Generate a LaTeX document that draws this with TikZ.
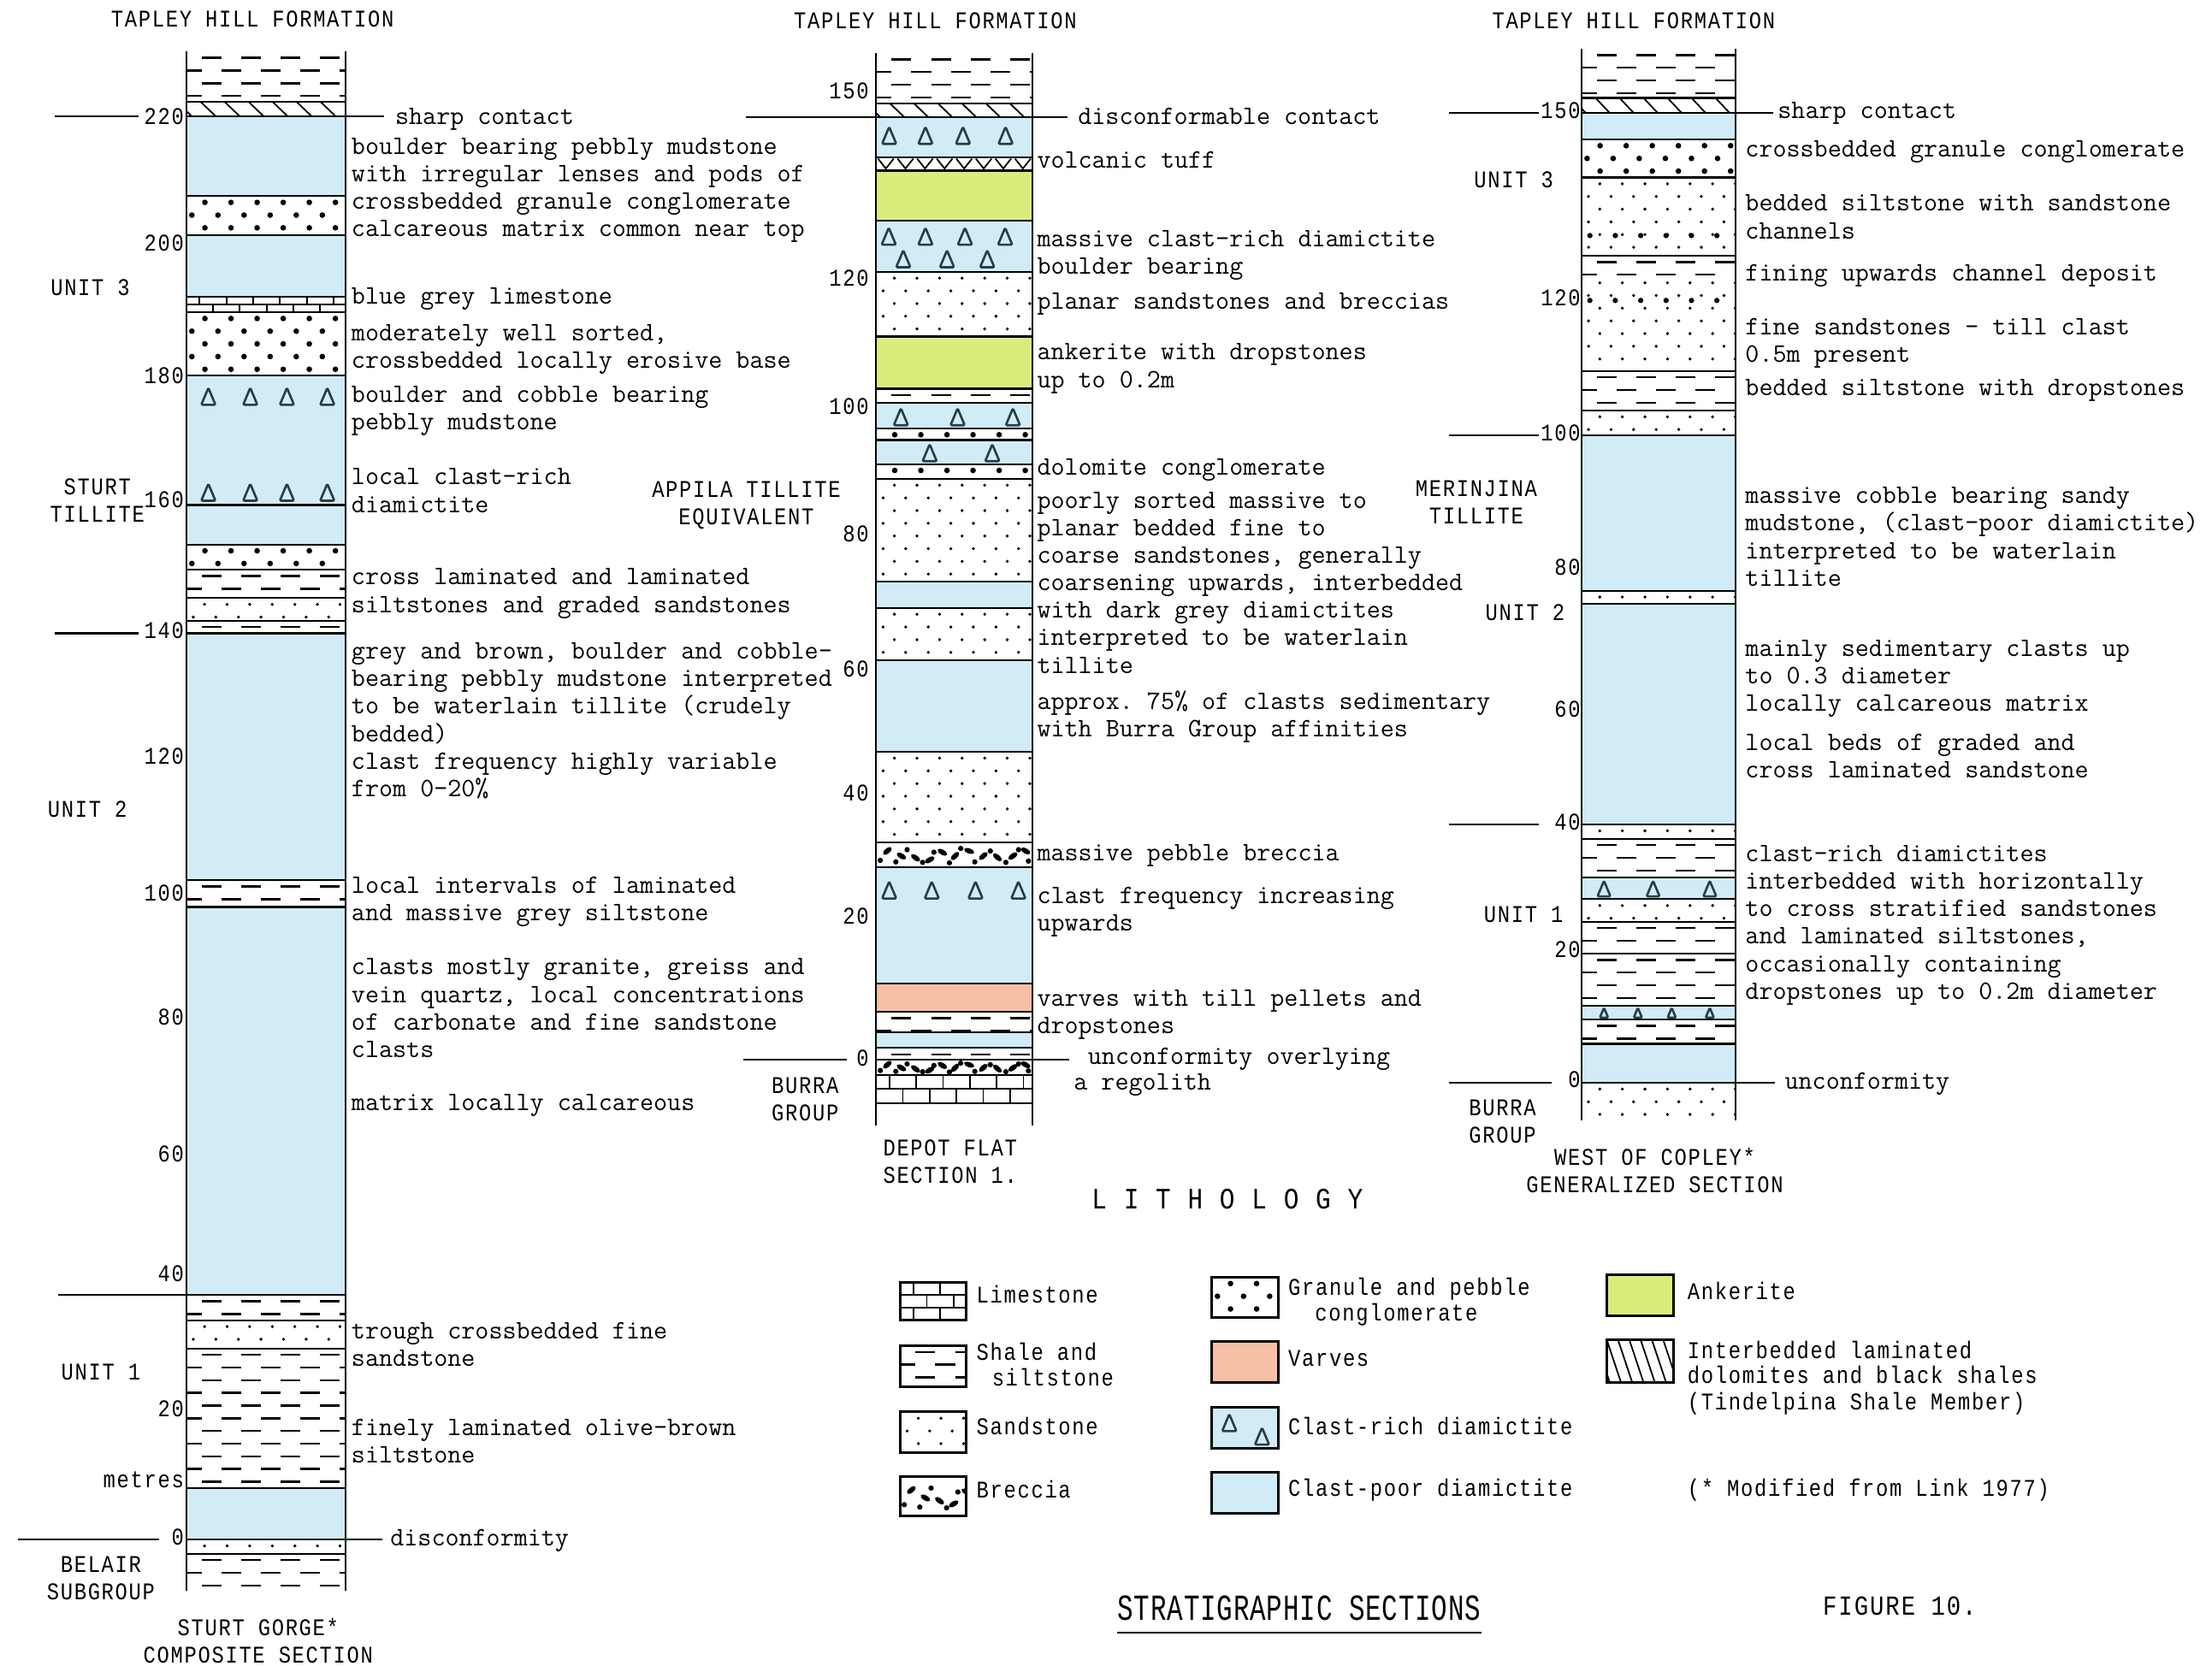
\documentclass[tikz,border=0pt]{standalone}
\usepackage{fontspec}
\usepackage{tikz}

\newfontfamily\lettering[FakeStretch=0.85,LetterSpace=6]{Liberation Mono}
\newfontfamily\titling[FakeStretch=0.72,LetterSpace=2]{Liberation Mono}

\definecolor{diam}{RGB}{209,236,247}
\definecolor{ank}{RGB}{218,236,124}
\definecolor{varve}{RGB}{247,192,165}
\definecolor{clastink}{RGB}{40,62,70}

% lithology symbols: #1 left, #2 right, #3 top, #4 bottom (y grows downwards)
\newcommand\shale[4]{%
  \begin{scope}
    \clip (#1,#3) rectangle (#2,#4);
    \pgfmathsetmacro\rowa{#3+4.5}%
    \pgfmathsetmacro\rowb{#3+13.5}%
    \foreach \yy [count=\k] in {\rowa,\rowb,...,#4}
      \foreach \xx in {-3,25,...,130}
        \draw[dashline] ({#1+\xx+mod(\k,2)*14},\yy) -- ++(14,0);
  \end{scope}}
\newcommand\sand[4]{%
  \begin{scope}
    \clip (#1,#3) rectangle (#2,#4);
    \pgfmathsetmacro\rowa{#3+4.5}%
    \pgfmathsetmacro\rowb{#3+13.5}%
    \foreach \yy [count=\k] in {\rowa,\rowb,...,#4}
      \foreach \xx in {5,21,...,125}
        \fill ({#1+\xx+mod(\k,2)*8},\yy) circle (1.15pt);
  \end{scope}}
\newcommand\congl[4]{%
  \begin{scope}
    \clip (#1,#3) rectangle (#2,#4);
    \pgfmathsetmacro\rowa{#3+4.5}%
    \pgfmathsetmacro\rowb{#3+13.5}%
    \foreach \yy [count=\k] in {\rowa,\rowb,...,#4}
      \foreach \xx in {4,22.5,...,130}
        \fill ({#1+\xx+mod(\k,2)*9.25},\yy) circle (2pt);
  \end{scope}}
% #5 = number of brick rows
\newcommand\lime[5]{%
  \begin{scope}
    \clip (#1,#3) rectangle (#2,#4);
    \pgfmathsetmacro\bh{(#4-#3)/#5}%
    \foreach \rw in {1,...,#5}{
      \draw[patline] (#1,{#3+\rw*\bh}) -- (#2,{#3+\rw*\bh});
      \foreach \xx in {0,19,...,133}
        \draw[patline] ({#1+\xx+mod(\rw,2)*9.5},{#3+(\rw-1)*\bh}) -- ++(0,\bh);
    }
  \end{scope}}
% #5 = spacing, #6 = horizontal run of each stroke
\newcommand\hatch[6]{%
  \begin{scope}
    \clip (#1,#3) rectangle (#2,#4);
    \pgfmathsetmacro\hb{-24+#5}%
    \foreach \xx in {-24,\hb,...,124}
      \draw[patline] ({#1+\xx},#3) -- ++(#6,{#4-#3});
  \end{scope}}
\newcommand\tuff[4]{%
  \pgfmathsetmacro\vw{(#2-#1)/8}%
  \foreach \i in {0,...,7}
    \draw[patline,line join=round] ({#1+(\i+0.1)*\vw},#3+1) -- ({#1+(\i+0.5)*\vw},#4-1.5) -- ({#1+(\i+0.9)*\vw},#3+1);}
% clast triangle: centre x, centre y, height
\newcommand\clast[3]{%
  \draw[clastline] ({#1-0.42*#3},{#2+0.5*#3}) -- ({#1},{#2-0.5*#3})
    -- ({#1+0.42*#3},{#2+0.5*#3}) -- cycle;}
\newcommand\breccia[4]{%
  \begin{scope}
    \clip (#1,#3) rectangle (#2,#4);
    \foreach \dx/\fy in {3/.72,14/.78,22/.3,33/.8,41/.4,52/.82,60/.25,70/.78,81/.35,92/.8,101/.3,108/.75}
      \fill ({#1+\dx},{#3+\fy*(#4-#3)}) circle (1.9pt);
    \foreach \dx/\fy/\aa in {8/.35/40,18/.55/-30,28/.62/-35,38/.7/30,47/.4/-30,56/.55/45,66/.35/-20,76/.55/40,86/.6/-40,97/.55/35,106/.35/-30}
      \fill[shift={({#1+\dx},{#3+\fy*(#4-#3)})},rotate=\aa] (0,0) ellipse (3.8pt and 1.8pt);
  \end{scope}}
% row of coarse grains: left, y
\newcommand\bigdots[2]{%
  \foreach \xx in {6,24,...,100} \fill ({#1+\xx},#2) circle (1.9pt);}

% text helpers: name, x, baseline of first line, text
\newcommand\desc[4]{\node[desc] (#1) at (#2,#3-13.65) {\strut #4};}
\newcommand\lett[4]{\node[lett,anchor=north] (#1) at (#2,#3-13.65) {\strut #4};}

\begin{document}
\begin{tikzpicture}[x=1pt,y=-1pt,
    bed/.style={line width=1.3pt},
    patline/.style={line width=1.1pt},
    dashline/.style={line width=1.5pt},
    clastline/.style={draw=clastink,line width=1.6pt,line join=round,rounded corners=0.8pt},
    legbox/.style={line width=1.8pt},
    desc/.style={font=\fontsize{18.9}{19.5}\selectfont\ttfamily\addfontfeatures{FakeBold=1.2}\frenchspacing,
      anchor=north west,inner sep=0pt,align=left},
    lett/.style={font=\fontsize{17}{19.5}\selectfont\lettering,inner sep=0pt,align=center},
    mlabel/.style={lett,anchor=base east},
    leg/.style={lett,anchor=base west}]

\fill[white] (0,0) rectangle (1568,1181);
\useasboundingbox (0,0) rectangle (1568,1181);

%%% Sturt Gorge composite section
\def\colL{132}\def\colR{245}
\foreach \ta/\tb in {82.5/139,166.5/210.5,266/358,358/386,449/624,643/918,1055/1091.5}
  \fill[diam] (\colL,\ta) rectangle (\colR,\tb);
\shale{\colL}{\colR}{36.5}{72}
\hatch{\colL}{\colR}{72}{82.5}{17}{11}
\congl{\colL}{\colR}{139}{166.5}
\lime{\colL}{\colR}{210.5}{221.3}{2}
\congl{\colL}{\colR}{221.3}{266}
\foreach \y in {281,349}
  {\foreach \dx in {15.7,45.4,71.4,100} {\clast{\colL+\dx}{\y}{12}}}
\congl{\colL}{\colR}{386}{404}
\shale{\colL}{\colR}{404}{424}
\sand{\colL}{\colR}{424}{440}
\shale{\colL}{\colR}{440}{449}
\shale{\colL}{\colR}{624}{643}
\shale{\colL}{\colR}{918}{936}
\sand{\colL}{\colR}{936}{956}
\shale{\colL}{\colR}{956}{1055}
\sand{\colL}{\colR}{1091.5}{1101.5}
\shale{\colL}{\colR}{1101.5}{1128}
\foreach \y in {72,82.5,139,166.5,210.5,221.3,266,358,386,404,424,440,449,624,643,918,936,956,1055,1091.5,1101.5}
  \draw[bed] (\colL,\y) -- (\colR,\y);
\draw[bed] (\colL,36.5) -- (\colL,1128) (\colR,36.5) -- (\colR,1128);
\draw[bed] (39,82.5) -- (98,82.5) (\colR,82.5) -- (272,82.5);
\draw[bed] (39,449) -- (98,449);
\draw[bed] (41,918) -- (\colL,918);
\draw[bed] (13,1091.5) -- (113,1091.5) (\colR,1091.5) -- (271,1091.5);

\foreach \v/\y in {220/88,200/177.8,180/271.8,160/359.8,140/452.7,120/541.7,100/638.7,80/726.6,60/823.6,40/908.5,20/1004.5,0/1095.5}
  \node[mlabel] (sg-\v) at (130.5,\y) {\v};
\node[mlabel] (sg-m) at (130.5,1054.6) {metres};

\lett{thf1}{179}{19.2}{TAPLEY HILL FORMATION}
\lett{sg-u3}{64}{209}{UNIT 3}
\lett{sturt}{69}{350.7}{STURT\\TILLITE}
\lett{sg-u2}{62}{579}{UNIT 2}
\lett{sg-u1}{71.5}{978}{UNIT 1}
\lett{belair}{71.5}{1114.7}{BELAIR\\SUBGROUP}
\lett{sg-name}{183}{1159.2}{STURT GORGE*\\COMPOSITE SECTION}

\desc{sg-a}{280}{88}{sharp contact}
\desc{sg-b}{249}{109}{boulder bearing pebbly mudstone\\with irregular lenses and pods of\\crossbedded granule conglomerate\\calcareous matrix common near top}
\desc{sg-c}{249}{215.5}{blue grey limestone}
\desc{sg-d}{249}{241.5}{moderately well sorted,\\crossbedded locally erosive base}
\desc{sg-e}{249}{285}{boulder and cobble bearing\\pebbly mudstone}
\desc{sg-f}{249}{343.5}{local clast-rich\\diamictite}
\desc{sg-g}{249}{414.5}{cross laminated and laminated\\siltstones and graded sandstones}
\desc{sg-h}{249}{467}{grey and brown, boulder and cobble-\\bearing pebbly mudstone interpreted\\to be waterlain tillite (crudely\\bedded)\\clast frequency highly variable\\from 0-20\%}
\desc{sg-i}{249}{633}{local intervals of laminated\\and massive grey siltstone}
\desc{sg-j}{249}{691}{clasts mostly granite, greiss and\\vein quartz, local concentrations\\of carbonate and fine sandstone\\clasts}
\desc{sg-k}{249}{787}{matrix locally calcareous}
\desc{sg-l}{249}{949}{trough crossbedded fine\\sandstone}
\desc{sg-m2}{249}{1017.5}{finely laminated olive-brown\\siltstone}
\desc{sg-n}{276.5}{1095.5}{disconformity}

%%% Depot Flat section 1
\def\colL{621}\def\colR{732}
\foreach \ta/\tb in {83/111.5,156.5/192.7,285.4/303.7,312/329,412.2/431,468/533,615/697.3,732/743}
  \fill[diam] (\colL,\ta) rectangle (\colR,\tb);
\foreach \ta/\tb in {121/156.5,238.6/275.6}
  \fill[ank] (\colL,\ta) rectangle (\colR,\tb);
\fill[varve] (\colL,697.3) rectangle (\colR,717.3);
\shale{\colL}{\colR}{37.5}{73.5}
\hatch{\colL}{\colR}{73.5}{83}{17}{10}
\foreach \dx in {9.3,35,61.6,91.8} {\clast{\colL+\dx}{96}{12}}
\tuff{\colL}{\colR}{111.5}{121}
\foreach \dx in {9,35,63,91.5} {\clast{\colL+\dx}{167.5}{12}}
\foreach \dx in {19.3,50.3,78.8} {\clast{\colL+\dx}{183.5}{12}}
\sand{\colL}{\colR}{192.7}{238.6}
\shale{\colL}{\colR}{275.6}{285.4}
\foreach \dx in {17.6,57.8,97} {\clast{\colL+\dx}{295.5}{12}}
\congl{\colL}{\colR}{303.7}{312}
\foreach \dx in {38,82.4} {\clast{\colL+\dx}{321}{12}}
\congl{\colL}{\colR}{329}{339.5}
\sand{\colL}{\colR}{339.5}{412.2}
\sand{\colL}{\colR}{431}{468}
\sand{\colL}{\colR}{533}{597}
\breccia{\colL}{\colR}{597}{615}
\foreach \dx in {9.3,39.5,70.5,100.9} {\clast{\colL+\dx}{631}{12}}
\shale{\colL}{\colR}{717.3}{732}
\shale{\colL}{\colR}{743}{751}
\breccia{\colL}{\colR}{751}{762}
\lime{\colL}{\colR}{762}{782}{2}
\foreach \y in {73.5,83,111.5,121,156.5,192.7,238.6,275.6,285.4,303.7,312,329,339.5,412.2,431,468,533,597,615,697.3,717.3,732,743,751,762,782}
  \draw[bed] (\colL,\y) -- (\colR,\y);
\draw[bed] (\colL,37.5) -- (\colL,798) (\colR,37.5) -- (\colR,798);
\draw[bed] (529,83) -- (\colL,83) (\colR,83) -- (757,83);
\draw[bed] (527,751) -- (600,751) (\colR,751) -- (758,751);

\foreach \v/\y in {150/70.2,120/203,100/293.5,80/384,60/480,40/567.6,20/655,0/755.5}
  \node[mlabel] (df-\v) at (616,\y) {\v};

\lett{thf2}{663}{20.4}{TAPLEY HILL FORMATION}
\lett{appila}{529}{352.2}{APPILA TILLITE\\EQUIVALENT}
\lett{burra2}{570.7}{774.8}{BURRA\\GROUP}
\lett{df-name}{673.5}{819.4}{DEPOT FLAT\\SECTION 1.}

\desc{df-a}{764}{88}{disconformable contact}
\desc{df-b}{735}{119}{volcanic tuff}
\desc{df-c}{735}{174.5}{massive clast-rich diamictite\\boulder bearing}
\desc{df-d}{735}{219}{planar sandstones and breccias}
\desc{df-e}{735}{255}{ankerite with dropstones\\up to 0.2m}
\desc{df-f}{735}{336.4}{dolomite conglomerate}
\desc{df-g}{735}{360}{poorly sorted massive to\\planar bedded fine to\\coarse sandstones, generally\\coarsening upwards, interbedded\\with dark grey diamictites\\interpreted to be waterlain\\tillite}
\desc{df-h}{735}{502.5}{approx. 75\% of clasts sedimentary\\with Burra Group affinities}
\desc{df-i}{735}{609.8}{massive pebble breccia}
\desc{df-j}{735}{640.5}{clast frequency increasing\\upwards}
\desc{df-k}{735}{713}{varves with till pellets and\\dropstones}
\desc{df-l}{771}{754.6}{unconformity overlying}
\desc{df-m}{761}{772.5}{a regolith}

%%% West of Copley generalized section
\def\colL{1121}\def\colR{1230}
\foreach \ta/\tb in {80/98.8,308.5/418.8,428/584.5,622/637.5,713/722.8,740/767.6}
  \fill[diam] (\colL,\ta) rectangle (\colR,\tb);
\shale{\colL}{\colR}{34.5}{69.4}
\hatch{\colL}{\colR}{69.4}{80}{17}{10}
\congl{\colL}{\colR}{98.8}{125.8}
\sand{\colL}{\colR}{125.8}{181.2}
\bigdots{\colL}{167}
\shale{\colL}{\colR}{181.2}{196}
\sand{\colL}{\colR}{196}{263}
\bigdots{\colL}{213}
\shale{\colL}{\colR}{263}{291}
\sand{\colL}{\colR}{291}{308.5}
\sand{\colL}{\colR}{418.8}{428}
\sand{\colL}{\colR}{584.5}{594.7}
\shale{\colL}{\colR}{594.7}{622}
\foreach \dx in {16,50.8,91} {\clast{\colL+\dx}{630}{11}}
\sand{\colL}{\colR}{637.5}{653.5}
\shale{\colL}{\colR}{653.5}{676}
\shale{\colL}{\colR}{676}{713}
\foreach \dx in {16,40,64,91} {\clast{\colL+\dx}{718}{7}}
\shale{\colL}{\colR}{722.8}{740}
\sand{\colL}{\colR}{767.6}{794}
\foreach \y in {69.4,80,98.8,125.8,181.2,263,291,308.5,418.8,428,584.5,594.7,622,637.5,653.5,676,713,722.8,740,767.6}
  \draw[bed] (\colL,\y) -- (\colR,\y);
\draw[bed] (\colL,34.5) -- (\colL,794) (\colR,34.5) -- (\colR,794);
\draw[bed] (1027,80) -- (1091,80) (\colR,80) -- (1257,80);
\draw[bed] (1027,308.5) -- (1091,308.5);
\draw[bed] (1027,584.5) -- (1091,584.5);
\draw[bed] (1027,767.6) -- (1100,767.6) (\colR,767.6) -- (1258,767.6);

\foreach \v/\y in {150/84,120/217,100/312.7,80/407.6,60/508.7,40/588.7,20/679,0/771.2}
  \node[mlabel] (wc-\v) at (1120.5,\y) {\v};

\lett{thf3}{1158}{20.4}{TAPLEY HILL FORMATION}
\lett{wc-u3}{1073}{132.7}{UNIT 3}
\lett{merin}{1046.5}{351.7}{MERINJINA\\TILLITE}
\lett{wc-u2}{1081}{439.4}{UNIT 2}
\lett{wc-u1}{1080}{653.5}{UNIT 1}
\lett{burra3}{1065}{790.7}{BURRA\\GROUP}
\lett{wc-name}{1173}{826}{WEST OF COPLEY*\\GENERALIZED SECTION}

\desc{wc-a}{1260}{83.5}{sharp contact}
\desc{wc-b}{1237}{111}{crossbedded granule conglomerate}
\desc{wc-c}{1237}{149.5}{bedded siltstone with sandstone\\channels}
\desc{wc-d}{1237}{199}{fining upwards channel deposit}
\desc{wc-e}{1237}{237}{fine sandstones - till clast\\0.5m present}
\desc{wc-f}{1237}{280}{bedded siltstone with dropstones}
\desc{wc-g}{1237}{356.8}{massive cobble bearing sandy\\mudstone, (clast-poor diamictite)\\interpreted to be waterlain\\tillite}
\desc{wc-h}{1237}{465}{mainly sedimentary clasts up\\to 0.3 diameter\\locally calcareous matrix}
\desc{wc-i}{1237}{532}{local beds of graded and\\cross laminated sandstone}
\desc{wc-j}{1237}{610.6}{clast-rich diamictites\\interbedded with horizontally\\to cross stratified sandstones\\and laminated siltstones,\\occasionally containing\\dropstones up to 0.2m diameter}
\desc{wc-k}{1265}{771.8}{unconformity}

%%% lithology key
\node[lett,font=\fontsize{21}{22}\selectfont\lettering,anchor=base] (litho) at (870,857) {L I T H O L O G Y};

\lime{638}{685}{909}{936}{3}
\draw[legbox] (638,909) rectangle (685,936);
\shale{638}{685}{954}{983}
\draw[legbox] (638,954) rectangle (685,983);
\sand{638}{685}{1001}{1030}
\draw[legbox] (638,1001) rectangle (685,1030);
\breccia{638}{685}{1046.6}{1074.6}
\draw[legbox] (638,1046.6) rectangle (685,1074.6);

\congl{859}{906}{905.5}{934}
\draw[legbox] (859,905.5) rectangle (906,934);
\fill[varve] (859,951) rectangle (906,980);
\draw[legbox] (859,951) rectangle (906,980);
\fill[diam] (859,997.5) rectangle (906,1026.6);
\clast{871.4}{1008.6}{12}
\clast{894.6}{1018.2}{12}
\draw[legbox] (859,997.5) rectangle (906,1026.6);
\fill[diam] (859,1043.6) rectangle (906,1073);
\draw[legbox] (859,1043.6) rectangle (906,1073);

\fill[ank] (1139,904) rectangle (1186,933);
\draw[legbox] (1139,904) rectangle (1186,933);
\hatch{1139}{1186}{950}{980}{8}{10}
\draw[legbox] (1139,950) rectangle (1186,980);

\node[leg] (k-lime) at (692,923.5) {Limestone};
\node[leg] (k-shale) at (692,964.2) {Shale and};
\node[leg] (k-shale2) at (703,982.8) {siltstone};
\node[leg] (k-sand) at (692,1017.3) {Sandstone};
\node[leg] (k-brec) at (692,1062) {Breccia};
\node[leg] (k-congl) at (913,918) {Granule and pebble};
\node[leg] (k-congl2) at (932,936.7) {conglomerate};
\node[leg] (k-varve) at (913,968.6) {Varves};
\node[leg] (k-rich) at (913,1017) {Clast-rich diamictite};
\node[leg] (k-poor) at (913,1061) {Clast-poor diamictite};
\node[leg] (k-ank) at (1196,921.4) {Ankerite};
\node[leg] (k-tin) at (1196,963) {Interbedded laminated};
\node[leg] (k-tin2) at (1196,980.7) {dolomites and black shales};
\node[leg] (k-tin3) at (1196,999.3) {(Tindelpina Shale Member)};
\node[leg] (k-note) at (1196,1061) {(* Modified from Link 1977)};

\node[font=\fontsize{26}{29}\selectfont\titling,inner sep=0pt,anchor=base] (title) at (921,1148.8) {STRATIGRAPHIC SECTIONS};
\draw[bed] ([yshift=-8.7pt]title.base west) -- ([yshift=-8.7pt]title.base east);
\node[font=\fontsize{19.5}{22}\selectfont\lettering,inner sep=0pt,anchor=base west] (fig) at (1292,1145) {FIGURE 10.};

\end{tikzpicture}
\end{document}
